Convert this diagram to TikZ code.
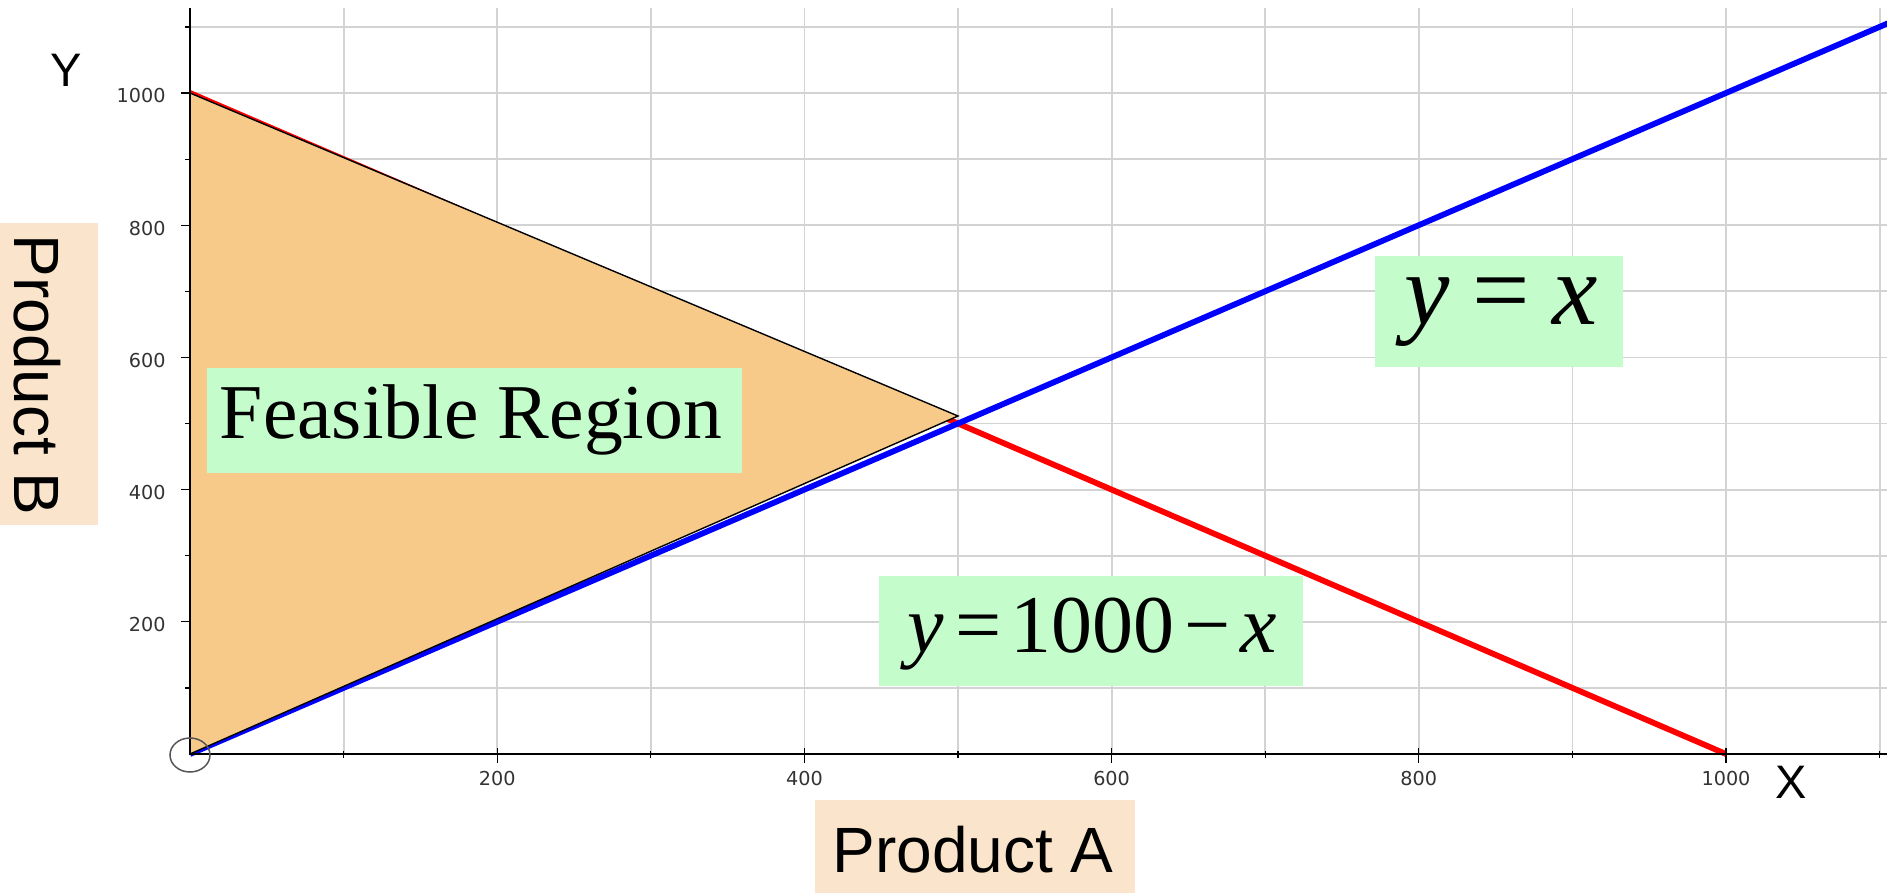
\documentclass[tikz,border=0pt]{standalone}
\usepackage{fontspec}
\setmainfont{Liberation Serif}
\setsansfont{Liberation Sans}
\newfontfamily\tickfont{DejaVu Sans}
\definecolor{gridc}{HTML}{D3D3D3}
\definecolor{feas}{HTML}{F8CA8A}
\definecolor{eqbg}{HTML}{C5FCCB}
\definecolor{axbg}{HTML}{FAE5CC}
\definecolor{ticklab}{HTML}{333333}
\definecolor{circc}{HTML}{555555}
\begin{document}
\begin{tikzpicture}[x=0.5pt,y=-0.5pt,
  gridline/.style={gridc, line width=0.9pt},
  axisline/.style={black, line width=1.1pt},
  tickline/.style={black, line width=0.6pt},
  ticklabel/.style={text=ticklab, inner sep=0pt, font=\tickfont\fontsize{9.6}{11}\selectfont},
  redline/.style={red, line width=2.9pt},
  blueline/.style={blue, line width=2.9pt},
  axisname/.style={inner sep=0pt, font=\sffamily\fontsize{23.5}{28}\selectfont},
  prodname/.style={inner sep=0pt, font=\sffamily\fontsize{32}{38}\selectfont},
  eqtext/.style={inner sep=0pt}]
\useasboundingbox (0,0) rectangle (1887,893);
\fill[white] (0,0) rectangle (1887,893);
% grid
\foreach \u in {100,200,...,1100} {
  \pgfmathsetmacro\px{190+1.536*\u}
  \draw[gridline] (\px,8) -- (\px,754);
}
\foreach \v in {100,200,...,1100} {
  \pgfmathsetmacro\py{754-0.661*\v}
  \draw[gridline] (190,\py) -- (1887,\py);
}
% constraint lines
\draw[redline] (190,93) -- (1726,754);
\begin{scope}
  \clip (0,0) rectangle (1887,893);
  \draw[blueline] (190,754) -- (1900,18.1);
\end{scope}
% feasible region
\filldraw[fill=feas, draw=black, line width=0.7pt] (190,754) -- (190,93) -- (958,416) -- cycle;
% axes
\draw[axisline] (190,8) -- (190,754) -- (1887,754);
% ticks
\foreach \u in {100,300,...,1100} {
  \pgfmathsetmacro\px{190+1.536*\u}
  \draw[tickline] (\px,751) -- (\px,758);
}
\foreach \u in {200,400,...,1000} {
  \pgfmathsetmacro\px{190+1.536*\u}
  \draw[tickline] (\px,748) -- (\px,763);
  \node[ticklabel] (xt\u) at (\px,779) {\u};
}
\foreach \v in {100,300,...,1100} {
  \pgfmathsetmacro\py{754-0.661*\v}
  \draw[tickline] (185,\py) -- (190,\py);
}
\foreach \v in {200,400,...,1000} {
  \pgfmathsetmacro\py{754-0.661*\v}
  \draw[tickline] (181,\py) -- (190,\py);
  \node[ticklabel, anchor=east] (yt\v) at (166,\py+3) {\v};
}
% origin marker
\draw[circc, line width=0.75pt] (190,755) ellipse [x radius=10pt, y radius=8.5pt];
% axis names
\node[axisname] (ylab) at (66,70) {Y};
\node[axisname] (xlab) at (1791,782) {X};
\fill[axbg] (815,800) rectangle (1135,893);
\node[prodname, anchor=base] (pa) at (973,872) {Product A};
\fill[axbg] (0,223) rectangle (98,525);
\node[prodname, rotate=-90, anchor=base] (pb) at (15,375) {Product B};
% labels
\fill[eqbg] (207,368) rectangle (742,473);
\node[eqtext, anchor=base, font=\fontsize{38.8}{44}\selectfont] (fr) at (471,439) {Feasible Region};
\fill[eqbg] (1375,256) rectangle (1623,367);
\node[eqtext, anchor=base, font=\fontsize{51}{60}\selectfont] (eq1) at (1501,325) {\textit{y}\hspace{0.22em}=\hspace{0.22em}\textit{x}};
\fill[eqbg] (879,576) rectangle (1303,686);
\node[eqtext, anchor=base, font=\fontsize{41}{48}\selectfont] (eq2) at (1092,652) {\textit{y}\hspace{0.15em}=\hspace{0.1em}1000\hspace{0.12em}−\hspace{0.12em}\textit{x}};
\end{tikzpicture}
\end{document}
